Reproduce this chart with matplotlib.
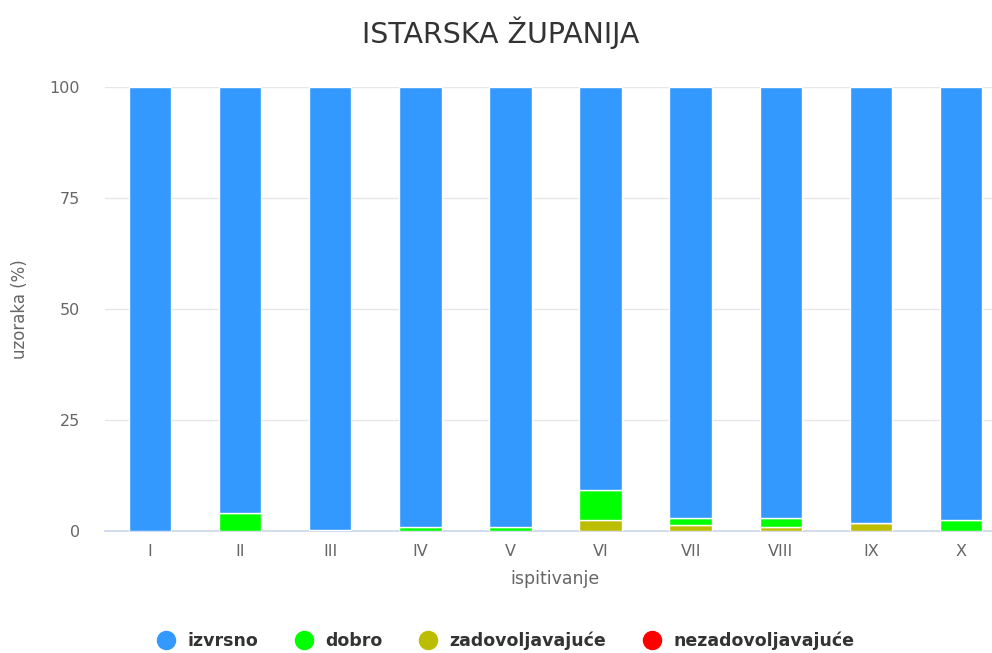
import numpy as np
import matplotlib
matplotlib.use('Agg')
import matplotlib.pyplot as plt

plt.rcParams['font.family'] = ['DejaVu Sans']

categories = ['I', 'II', 'III', 'IV', 'V', 'VI', 'VII', 'VIII', 'IX', 'X']
izvrsno = [100.0, 96.0, 99.7, 99.2, 99.2, 90.8, 97.1, 97.1, 98.2, 97.5]
dobro = [0.0, 4.0, 0.3, 0.8, 0.8, 6.7, 1.6, 2.0, 0.0, 2.5]
zadovoljavajuce = [0.0, 0.0, 0.0, 0.0, 0.0, 2.5, 1.3, 0.9, 1.8, 0.0]
nezadovoljavajuce = [0.0, 0.0, 0.0, 0.0, 0.0, 0.0, 0.0, 0.0, 0.0, 0.0]

series = [
    ('izvrsno', izvrsno, '#3399ff'),
    ('dobro', dobro, '#00ff00'),
    ('zadovoljavajuće', zadovoljavajuce, '#bdbd00'),
    ('nezadovoljavajuće', nezadovoljavajuce, '#ff0000'),
]

fig = plt.figure(figsize=(9.92, 6.53), dpi=100)
ax = fig.add_axes([105 / 992, 122 / 653, 901 / 992, 444 / 653])

x = np.arange(len(categories))
# stack from the bottom: worst first
bottom = np.zeros(len(categories))
for name, vals, col in reversed(series):
    vals = np.array(vals)
    ax.bar(x, vals, 0.47, bottom=bottom, color=col, edgecolor='white',
           linewidth=1, zorder=3)
    bottom += vals

ax.set_xlim(-0.5, len(categories) - 0.5)
ax.set_ylim(0, 100)
ax.set_yticks([0, 25, 50, 75, 100])
ax.set_xticks(x)
ax.set_xticklabels(categories)
ax.tick_params(axis='both', length=0, labelsize=11.5, colors='#666666')
ax.tick_params(axis='x', pad=9)
ax.tick_params(axis='y', pad=18)
ax.grid(axis='y', color='#e6e6e6', linewidth=1, zorder=0)
for s in ['top', 'right', 'left']:
    ax.spines[s].set_visible(False)
ax.spines['bottom'].set_color('#ccd6eb')
ax.spines['bottom'].set_linewidth(1.2)

ax.set_xlabel('ispitivanje', fontsize=12.5, color='#666666', labelpad=8)
fig.text(20 / 992, 1 - 309 / 653, 'uzoraka (%)', rotation=90, ha='center',
         va='center', fontsize=12, color='#666666')

fig.text(0.505, 1 - 33 / 653, 'ISTARSKA ŽUPANIJA', ha='center', va='center',
         fontsize=20.5, color='#333333')

handles = [plt.Line2D([], [], marker='o', linestyle='', markersize=13,
                      color=col) for _, _, col in series]
fig.legend(handles, [n for n, _, _ in series], loc='center',
           bbox_to_anchor=(0.51, 1 - 641 / 653), ncol=4, frameon=False,
           handlelength=1.0, handletextpad=0.75, columnspacing=2.1,
           prop={'weight': 'bold', 'size': 12.5}, labelcolor='#333333')

fig.savefig('out.png', dpi=100)
